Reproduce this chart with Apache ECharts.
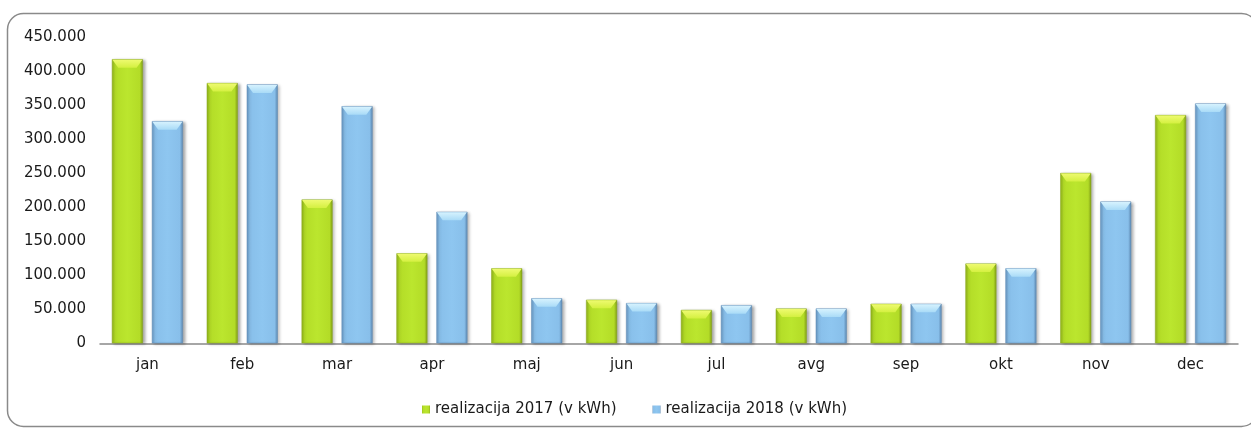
<!DOCTYPE html>
<html>
<head>
<meta charset="utf-8">
<script src="https://cdn.jsdelivr.net/npm/echarts@6/dist/echarts.min.js"></script>
<style>
html,body{margin:0;padding:0;background:#fff;}
#chart{width:1251px;height:429px;}
</style>
</head>
<body>
<div id="chart"></div>
<script>
const categories = ['jan','feb','mar','apr','maj','jun','jul','avg','sep','okt','nov','dec'];
const seriesNames = ['realizacija 2017 (v kWh)', 'realizacija 2018 (v kWh)'];
const values2017 = [417000, 382000, 211000, 132000, 110000, 64000, 49000, 51000, 58000, 117000, 250000, 335000];
const values2018 = [326000, 380000, 348000, 193000, 66000, 59000, 56000, 51000, 58000, 110000, 208000, 352000];
const yMin = 0, yMax = 450000, yStep = 50000;

function fmt(v){
  return String(Math.round(v)).replace(/\B(?=(\d{3})+(?!\d))/g, '.');
}

const font = 'DejaVu Sans';
const barW = 31, gapPx = 9;
const greenGrad = new echarts.graphic.LinearGradient(0,0,1,0,[
  {offset:0,color:'#8fb11a'},{offset:0.1,color:'#b3dc27'},
  {offset:0.5,color:'#bbe62e'},{offset:0.9,color:'#b3dc27'},{offset:1,color:'#7f9c16'}]);
const blueGrad = new echarts.graphic.LinearGradient(0,0,1,0,[
  {offset:0,color:'#6795c0'},{offset:0.1,color:'#88bfea'},
  {offset:0.5,color:'#8ec6f0'},{offset:0.9,color:'#88bfea'},{offset:1,color:'#5c87b0'}]);
const greenCap = new echarts.graphic.LinearGradient(0,0,0,1,[
  {offset:0,color:'#eefa70'},{offset:1,color:'#d4f040'}]);
const blueCap = new echarts.graphic.LinearGradient(0,0,0,1,[
  {offset:0,color:'#d6f2fe'},{offset:1,color:'#a9dbf7'}]);
const capPath = 'path://M0,0 L31,0 L25,8 L6,8 Z';

const chart = echarts.init(document.getElementById('chart'));
chart.setOption({
  animation:false,
  backgroundColor:'#fff',
  graphic:[{
    type:'rect', silent:true, z:-1,
    shape:{x:7.5,y:13.5,width:1250,height:413,r:16},
    style:{fill:'none',stroke:'#8a8a8a',lineWidth:1.5}
  }],
  grid:{left:100,right:13,top:36.7,bottom:85.7,containLabel:false},
  legend:{
    data:seriesNames,
    left:417, top:397,
    itemWidth:8, itemHeight:8, itemGap:36,
    icon:'rect',
    itemStyle:{borderWidth:0,shadowBlur:0,shadowOffsetX:0,shadowOffsetY:0},
    textStyle:{fontFamily:font,fontSize:15,color:'#1a1a1a'}
  },
  xAxis:{
    type:'category', data:categories,
    axisLine:{lineStyle:{color:'#898989',width:1.5}},
    axisTick:{show:false},
    axisLabel:{fontFamily:font,fontSize:15,color:'#1a1a1a',margin:14}
  },
  yAxis:{
    type:'value', min:yMin, max:yMax, interval:yStep,
    axisLine:{show:false}, axisTick:{show:false}, splitLine:{show:false},
    axisLabel:{fontFamily:font,fontSize:15,color:'#1a1a1a',margin:14,formatter:fmt}
  },
  series:[
    {name:seriesNames[0],type:'bar',data:values2017,barWidth:barW,barGap:'29%',
     itemStyle:{color:greenGrad,borderColor:'#8aa81c',borderWidth:0.5,
       shadowColor:'rgba(0,0,0,0.35)',shadowBlur:3,shadowOffsetX:2,shadowOffsetY:1}},
    {name:seriesNames[1],type:'bar',data:values2018,barWidth:barW,barGap:'29%',
     itemStyle:{color:blueGrad,borderColor:'#5f8db8',borderWidth:0.5,
       shadowColor:'rgba(0,0,0,0.35)',shadowBlur:3,shadowOffsetX:2,shadowOffsetY:1}},
    {name:'cap2017',type:'pictorialBar',data:values2017,symbol:capPath,
     symbolSize:[barW-1,8],symbolPosition:'end',symbolOffset:[-(barW+gapPx)/2,0.5],
     itemStyle:{color:greenCap},z:5,silent:true},
    {name:'cap2018',type:'pictorialBar',data:values2018,symbol:capPath,
     symbolSize:[barW-1,8],symbolPosition:'end',symbolOffset:[(barW+gapPx)/2,0.5],
     itemStyle:{color:blueCap},z:5,silent:true}
  ]
});
</script>
</body>
</html>
